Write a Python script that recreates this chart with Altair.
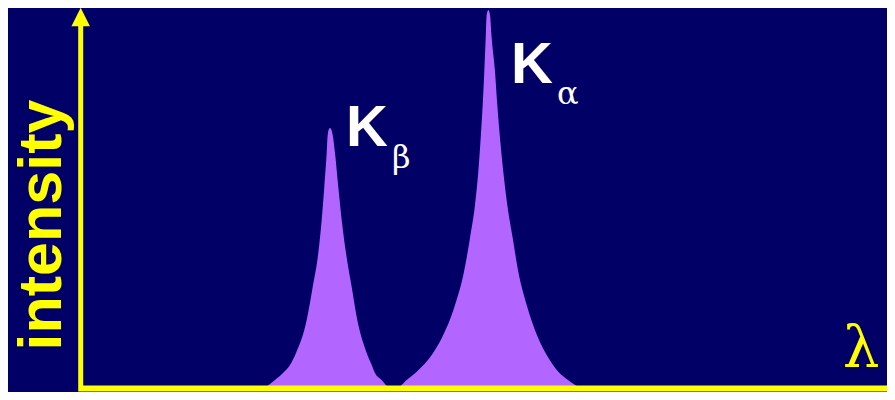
import altair as alt
import pandas as pd

# ---- data (x: wavelength units, origin at the intensity axis; y: intensity units) ----
kb_x = [182, 192, 200, 207, 213, 223.7, 229.7, 235.3, 238.7, 241.3, 243.7, 244.7, 246, 247, 248,
        249.7, 252, 255.3, 258.7, 263, 268.7, 274.3, 283.7, 288.7, 292, 298.7, 307]
kb_y = [0, 8, 15, 23, 35, 68, 101, 135, 168, 201, 235, 253, 259, 260, 259,
        253, 235, 201, 168, 135, 101, 68, 35, 23, 15, 8, 0]

ka_x = [313.7, 323.7, 333.7, 348.7, 358.7, 372, 381, 387, 392, 395.3, 397.7, 399.7, 401.3, 402.7,
        403.7, 405.3, 407, 408.7, 412, 414.3, 417, 420.3, 424.3, 429.7, 435.3, 443.7, 455.3,
        463.7, 475.3, 485, 497]
ka_y = [0, 8, 16.3, 33, 49.7, 83, 116.3, 150, 183, 216.3, 250, 283, 316.3, 349.7,
        373, 378, 373, 349.7, 316.3, 283, 250, 216.3, 183, 150, 116.3, 83, 49.7,
        33, 16.3, 8, 0]

# axes geometry (data units)
yaxis_x = [-2.3, -2.3]
yaxis_y = [-3.5, 362]
xaxis_x = [0, 815]
xaxis_y = [-0.5, -0.5]
arrow_x = [-2.3]
arrow_y = [371]
arrow_shape = ["M0,-1L1,1L-1,1Z"]

# labels
k_labels = ["K", "K"]
k_x = [263, 428]
k_y = [242, 305]
sub_labels = ["\u03b2", "\u03b1"]
sub_x = [309, 474]
sub_y = [220, 284]
ylab = ["intensity"]
ylab_x = [-22]
ylab_y = [163]
xlab = ["\u03bb"]
xlab_x = [778]
xlab_y = [21]

BG = "#000066"
PEAK = "#B266FF"
YEL = "#FFFF00"
SERIF = "DejaVu Serif"

W, H = 879, 384
xs = alt.Scale(domain=[-75, -75 + W])
ys = alt.Scale(domain=[380 - H, 380])

peaks = pd.DataFrame({
    "x": kb_x + ka_x,
    "y": kb_y + ka_y,
    "peak": ["Kb"] * len(kb_x) + ["Ka"] * len(ka_x),
})

area = alt.Chart(peaks).mark_area(color=PEAK, interpolate="monotone", opacity=1).encode(
    x=alt.X("x:Q", scale=xs, axis=None),
    y=alt.Y("y:Q", scale=ys, axis=None),
    detail="peak:N",
)

vline = alt.Chart(pd.DataFrame({"x": [yaxis_x[0]], "y": [yaxis_y[0]], "y2": [yaxis_y[1]]})).mark_rule(
    color=YEL, strokeWidth=5).encode(
    x=alt.X("x:Q", scale=xs, axis=None), y=alt.Y("y:Q", scale=ys, axis=None), y2="y2:Q")

hline = alt.Chart(pd.DataFrame({"x": [xaxis_x[0]], "x2": [xaxis_x[1]], "y": [xaxis_y[0]]})).mark_rule(
    color=YEL, strokeWidth=6).encode(
    x=alt.X("x:Q", scale=xs, axis=None), x2="x2:Q", y=alt.Y("y:Q", scale=ys, axis=None))

heads = alt.Chart(pd.DataFrame({"x": arrow_x, "y": arrow_y, "s": arrow_shape})).mark_point(
    filled=True, color=YEL, opacity=1, size=340, strokeWidth=0).encode(
    x=alt.X("x:Q", scale=xs, axis=None), y=alt.Y("y:Q", scale=ys, axis=None),
    shape=alt.Shape("s:N", scale=None, legend=None))

ktext = alt.Chart(pd.DataFrame({"x": k_x, "y": k_y, "t": k_labels})).mark_text(
    color="white", font="Liberation Sans", fontWeight="bold", fontSize=58, align="left",
    baseline="alphabetic").encode(
    x=alt.X("x:Q", scale=xs, axis=None), y=alt.Y("y:Q", scale=ys, axis=None), text="t:N")

subtext = alt.Chart(pd.DataFrame({"x": sub_x, "y": sub_y, "t": sub_labels})).mark_text(
    color="white", font=SERIF, fontSize=32, align="left",
    baseline="alphabetic").encode(
    x=alt.X("x:Q", scale=xs, axis=None), y=alt.Y("y:Q", scale=ys, axis=None), text="t:N")

ytext = alt.Chart(pd.DataFrame({"x": ylab_x, "y": ylab_y, "t": ylab})).mark_text(
    color=YEL, font="Liberation Sans", fontWeight="bold", fontSize=61, align="center",
    baseline="alphabetic", angle=270).encode(
    x=alt.X("x:Q", scale=xs, axis=None), y=alt.Y("y:Q", scale=ys, axis=None), text="t:N")

xtext = alt.Chart(pd.DataFrame({"x": xlab_x, "y": xlab_y, "t": xlab})).mark_text(
    color=YEL, font=SERIF, fontSize=58, align="center",
    baseline="alphabetic").encode(
    x=alt.X("x:Q", scale=xs, axis=None), y=alt.Y("y:Q", scale=ys, axis=None), text="t:N")

chart = alt.layer(area, vline, hline, heads, ktext, subtext, ytext, xtext).properties(
    width=W, height=H, padding=0, background=BG,
    autosize=alt.AutoSizeParams(type="none"),
).configure_view(strokeOpacity=0)

chart.save("out.html", embed_options={"renderer": "svg", "actions": False})
